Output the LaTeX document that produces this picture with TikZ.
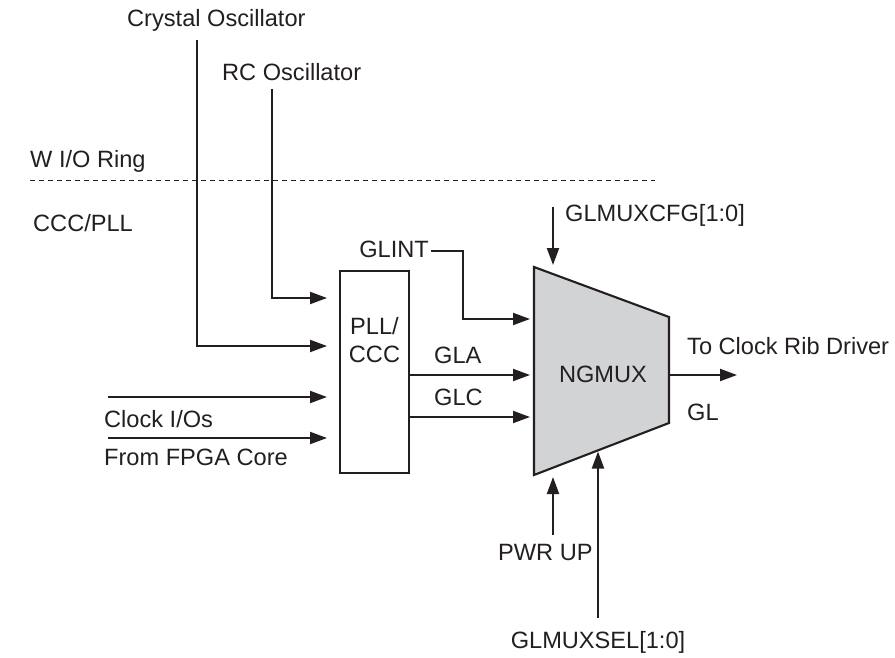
\documentclass[tikz,border=0pt]{standalone}
\usepackage{fontspec}
\setmainfont{Liberation Sans}
\usepackage{xcolor}
\usetikzlibrary{arrows.meta, positioning}
\definecolor{ink}{HTML}{231F20}
\definecolor{muxgray}{HTML}{D1D3D4}

\tikzset{
  wire/.style={line width=2.1pt, draw=ink},
  sig/.style={wire, -{Triangle[length=17pt, width=12pt]}},
  lbl/.style={text=ink, inner sep=0pt, font=\fontsize{23.6}{28}\selectfont},
}

\begin{document}
\begin{tikzpicture}[x=1pt, y=-1pt]
        \useasboundingbox (0,0) rectangle (895,658);
        % ring boundary
        \draw[ink, line width=0.9pt, dash pattern=on 5pt off 4pt] (30,180) -- (655,180);
        \node[lbl, anchor=base west] (ring) at (30,168) {W I/O Ring};
        \node[lbl, anchor=base west] (cccpll) at (33,232) {CCC/PLL};
        % sources
        \node[lbl, anchor=base west] (xtal) at (127,27) {Crystal Oscillator};
        \node[lbl, anchor=base west] (rc) at (222,81) {RC Oscillator};
        \coordinate (xtal-out) at (197,40);
        \coordinate (rc-out) at (272,89);
        % PLL block
        \node[wire, minimum width=69pt, minimum height=202pt, inner sep=0pt] (pll) at (374.5,372) {};
        \node[lbl, align=center, anchor=base] (plltxt) at (374.5,362) {PLL/\\CCC};
        \coordinate (pll-in1) at (340,298);
        \coordinate (pll-in2) at (340,346);
        \coordinate (pll-in3) at (340,397);
        \coordinate (pll-in4) at (340,438);
        \coordinate (pll-out1) at (409,375);
        \coordinate (pll-out2) at (409,417);
        \coordinate (io-in) at (108,397);
        \coordinate (core-in) at (108,438);
        \node[lbl, anchor=base west] (clkio) at (104,427) {Clock I/Os};
        \node[lbl, anchor=base west] (core) at (104,465) {From FPGA Core};
        % NGMUX
        \coordinate (m-tl) at (534,267);
        \coordinate (m-tr) at (669,317);
        \coordinate (m-br) at (669,423);
        \coordinate (m-bl) at (534,475);
        \draw[wire, fill=muxgray, line join=miter] (m-tl) -- (m-tr) -- (m-br) -- (m-bl) -- cycle;
        \node[lbl, anchor=base] (mux) at (603,382) {NGMUX};
        \coordinate (mux-in0) at (534,319);
        \coordinate (mux-in1) at (534,375);
        \coordinate (mux-in2) at (534,417);
        \coordinate (mux-out) at (669,375);
        \coordinate (mux-cfg) at (553,267);
        \coordinate (mux-pwr) at (553,475);
        \coordinate (mux-sel) at (598,450.5);
        % labels round the mux
        \node[lbl, anchor=base east] (glint) at (429,257) {GLINT};
        \node[lbl, anchor=base west] (gla) at (434,363) {GLA};
        \node[lbl, anchor=base west] (glc) at (434,405) {GLC};
        \node[lbl, anchor=base west] (cfg) at (565,222) {GLMUXCFG[1:0]};
        \node[lbl, anchor=base west] (pwr) at (498,560) {PWR UP};
        \node[lbl, anchor=base] (sel) at (598,648) {GLMUXSEL[1:0]};
        \node[lbl, anchor=base west] (rib) at (687,354) {To Clock Rib Driver};
        \node[lbl, anchor=base west] (gl) at (687,420) {GL};
        \coordinate (glint-out) at (431,251);
        \coordinate (cfg-in) at (553,207);
        \coordinate (pwr-in) at (553,535);
        \coordinate (sel-in) at (598,618);
        \coordinate (rib-end) at (737,375);
        % connectors
        \draw[sig, shorten >=13pt] (xtal-out) |- (pll-in2);
        \draw[sig, shorten >=13pt] (rc-out) |- (pll-in1);
        \draw[sig, shorten >=13pt] (io-in) -- (pll-in3);
        \draw[sig, shorten >=13pt] (core-in) -- (pll-in4);
        \draw[sig, shorten >=4pt] (pll-out1) -- (mux-in1);
        \draw[sig, shorten >=4pt] (pll-out2) -- (mux-in2);
        \draw[sig, shorten >=4pt] (glint-out) -| (463,319) -- (mux-in0);
        \draw[sig, shorten >=2pt] (cfg-in) -- (mux-cfg);
        \draw[sig, shorten >=2pt] (pwr-in) -- (mux-pwr);
        \draw[sig, shorten >=1pt] (sel-in) -- (mux-sel);
        \draw[sig] (mux-out) -- (rib-end);
\end{tikzpicture}
\end{document}
